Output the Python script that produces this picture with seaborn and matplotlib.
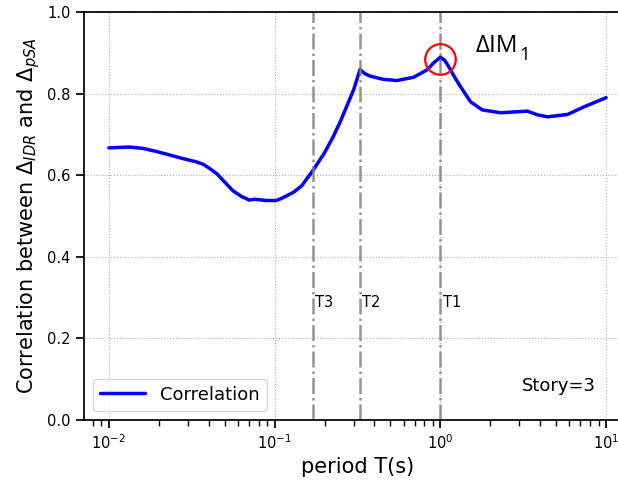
import matplotlib
matplotlib.use("Agg")
import matplotlib.pyplot as plt
import seaborn as sns
import pandas as pd

# Correlation between IDR and pSA increments versus spectral period
period = [0.0100, 0.0132, 0.0159, 0.0190, 0.0221, 0.0278, 0.0335, 0.0370,
          0.0404, 0.0450, 0.0487, 0.0560, 0.0630, 0.0705, 0.0756, 0.0889,
          0.1025, 0.1125, 0.1297, 0.1456, 0.1636, 0.1706, 0.2000, 0.2255,
          0.2500, 0.2718, 0.3000, 0.3275, 0.3500, 0.3765, 0.4525, 0.5460,
          0.6890, 0.8300, 0.9200, 1.0000, 1.0600, 1.1230, 1.2200, 1.3220,
          1.5200, 1.7890, 2.3100, 3.0500, 3.3500, 3.8500, 4.4300, 5.8600,
          7.3900, 10.000]
correlation = [0.667, 0.669, 0.666, 0.659, 0.652, 0.641, 0.633, 0.627,
               0.617, 0.603, 0.588, 0.562, 0.548, 0.539, 0.541, 0.538,
               0.538, 0.545, 0.558, 0.574, 0.602, 0.612, 0.655, 0.694,
               0.733, 0.768, 0.810, 0.859, 0.849, 0.843, 0.835, 0.832,
               0.840, 0.858, 0.877, 0.889, 0.882, 0.866, 0.840, 0.817,
               0.780, 0.760, 0.753, 0.756, 0.757, 0.748, 0.743, 0.749,
               0.768, 0.790]

# Modal periods of the structure
mode_labels = ["T3", "T2", "T1"]
mode_periods = [0.170, 0.3275, 1.0]

# Highlighted point
im_period = 1.0
im_value = 0.889

df = pd.DataFrame({"period": period, "correlation": correlation})

sns.set_theme(style="ticks")
plt.rcParams["font.family"] = ["DejaVu Sans"]
plt.rcParams["text.color"] = "black"
plt.rcParams["axes.labelcolor"] = "black"
plt.rcParams["xtick.color"] = "black"
plt.rcParams["ytick.color"] = "black"
plt.rcParams["mathtext.fontset"] = "dejavusans"

fig = plt.figure(figsize=(6.18, 4.82), dpi=100)
ax = fig.add_axes([84 / 618, 62 / 482, (631 - 84) / 618, (420 - 12) / 482])

sns.lineplot(data=df, x="period", y="correlation", ax=ax, color="#0000ff",
             linewidth=2.5, label="Correlation")
ax.set_xscale("log")
ax.set_xlim(10 ** (-2.15), 10 ** 1.15)
ax.set_ylim(0, 1.0)
ax.set_yticks([0.0, 0.2, 0.4, 0.6, 0.8, 1.0])

ax.grid(True, which="major", linestyle=":", color="#b0b0b0", linewidth=0.8)

for lab, t in zip(mode_labels, mode_periods):
    ax.axvline(t, color="gray", linestyle="-.", linewidth=1.8, alpha=0.85)
    ax.text(t * 1.03, 0.287, lab, fontsize=10.5, va="center", ha="left")

ax.plot([im_period], [im_value - 0.004], marker="o", markersize=22,
        markerfacecolor="none", markeredgecolor="red", markeredgewidth=1.6)

# "ΔIM" with a large, low subscript "1"
ax.text(1.63, 0.902, "ΔIM", fontsize=17.5, fontfamily="Open Sans",
        va="baseline", ha="left")
ax.annotate("1", xy=(1.63, 0.902), xytext=(31.5, -5.8),
            textcoords="offset points", fontsize=13.5, fontfamily="Open Sans",
            va="baseline", ha="left")

ax.text(3.1, 0.083, "Story=3", fontsize=13, va="center", ha="left")

ax.set_xlabel("period T(s)", fontsize=15)
ax.set_ylabel(r"Correlation between $\Delta_{IDR}$ and $\Delta_{pSA}$", fontsize=15)
ax.tick_params(axis="both", labelsize=10.5, direction="out")
ax.tick_params(axis="x", which="minor", direction="out")

ax.legend(loc="lower left", fontsize=13, frameon=True, handlelength=2.5)

for s in ax.spines.values():
    s.set_color("black")

fig.savefig("out.png", dpi=100)
